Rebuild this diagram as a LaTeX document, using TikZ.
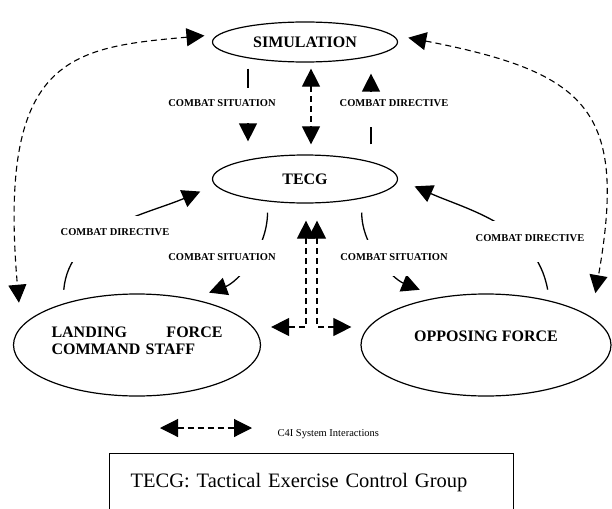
\documentclass[tikz,border=0pt]{standalone}
\usepackage{fontspec}
\setmainfont{Liberation Serif}
\usetikzlibrary{arrows.meta,shapes.geometric}

\begin{document}
\begin{tikzpicture}[x=1pt,y=-1pt,
    party/.style={draw, ellipse, line width=1.2pt, inner sep=0pt, font=\bfseries\fontsize{16}{17.5}\selectfont},
    order/.style={line width=1.3pt, -{Triangle[length=18pt,width=18pt]}},
    link/.style={line width=1.1pt, dash pattern=on 6pt off 4pt, {Triangle[length=18pt,width=18pt]}-{Triangle[length=18pt,width=18pt]}},
    tag/.style={fill=white, inner sep=0pt, anchor=base, font=\bfseries\fontsize{10.5}{12}\selectfont}]
    \useasboundingbox (0,0) rectangle (612,508);
    % Ellipses
    \node[party, minimum width=185pt, minimum height=40pt] (sim) at (305,42) {SIMULATION};
    \node[party, minimum width=185pt, minimum height=48pt] (tecg) at (305,179) {TECG};
    \node[party, minimum width=247pt, minimum height=102pt, text width=171pt, align=left] (lfcs) at (137,345) {LANDING \hfill FORCE\\COMMAND STAFF\\[-8.5pt]\mbox{}};
    \node[party, minimum width=250pt, minimum height=102pt, align=center] (opfor) at (486,345) {OPPOSING FORCE\\\mbox{}};
    % Simulation <-> TECG
    \draw[order, shorten <=6pt, shorten >=13pt] ([xshift=-57pt]sim.south) -- ([xshift=-57pt]tecg.north);
    \draw[link, shorten <=6pt, shorten >=10pt] ([xshift=6pt]sim.south) -- ([xshift=6pt]tecg.north);
    \draw[order, shorten <=10pt, shorten >=11pt] ([xshift=66pt]tecg.north) -- ([xshift=66pt]sim.south);
    % TECG <-> forces
    \draw[order, shorten <=11pt, shorten >=18pt] (tecg.211) to[out=-90, in=20] (lfcs.40);
    \draw[order, shorten <=14pt, shorten >=16pt] (lfcs.151) to[out=85, in=203] (tecg.184);
    \draw[order, shorten <=14pt, shorten >=20pt] (tecg.-19) to[out=-90, in=158] (opfor.135);
    \draw[order, shorten <=11pt, shorten >=18pt] (opfor.35) to[out=100, in=-24] (tecg.east);
    \draw[link] ([shift={(10pt,18pt)}]lfcs.east) -| ([shift={(1pt,-17pt)}]tecg.south);
    \draw[link] ([shift={(12pt,-17pt)}]tecg.south) |- ([shift={(-9pt,18pt)}]opfor.west);
    % C4I links to the simulation
    \draw[link, shorten <=14pt, shorten >=24pt] (sim.175) .. controls +(185:150pt) and +(95:270pt) .. (lfcs.171);
    \draw[link, shorten <=17pt, shorten >=24pt] (sim.5) .. controls +(-11:200pt) and +(80:210pt) .. (opfor.15);
    % Labels
    \node[tag, text height=18.5pt, text depth=16.5pt] (sitTop) at (222,106.5) {COMBAT SITUATION};
    \node[tag, text height=14.5pt, text depth=20.5pt] (dirTop) at (394,106.5) {COMBAT DIRECTIVE};
    \node[tag, text height=19.5pt, text depth=26pt] (dirLeft) at (115,235.5) {COMBAT DIRECTIVE};
    \node[tag, text height=20.5pt, text depth=20.5pt] (dirRight) at (530,241.5) {COMBAT DIRECTIVE};
    \node[tag, text height=20.5pt, text depth=15.5pt] (sitLeft) at (222,260.5) {COMBAT SITUATION};
    \node[tag, text height=20.5pt, text depth=15.5pt] (sitRight) at (394,260.5) {COMBAT SITUATION};
    % Legend
    \coordinate (keyL) at (160,428);
    \coordinate (keyR) at (252,428);
    \draw[link] (keyL) -- (keyR);
    \node[anchor=west, font=\fontsize{10.5}{12}\selectfont] (keyText) at (274,434) {C4I System Interactions};
    \node[draw, line width=1.2pt, anchor=north west, inner xsep=21pt, text width=362pt, minimum height=58pt, align=left, font=\fontsize{20.5}{24}\selectfont] (gloss) at (109,453) {TECG: Tactical Exercise Control Group};
\end{tikzpicture}
\end{document}
